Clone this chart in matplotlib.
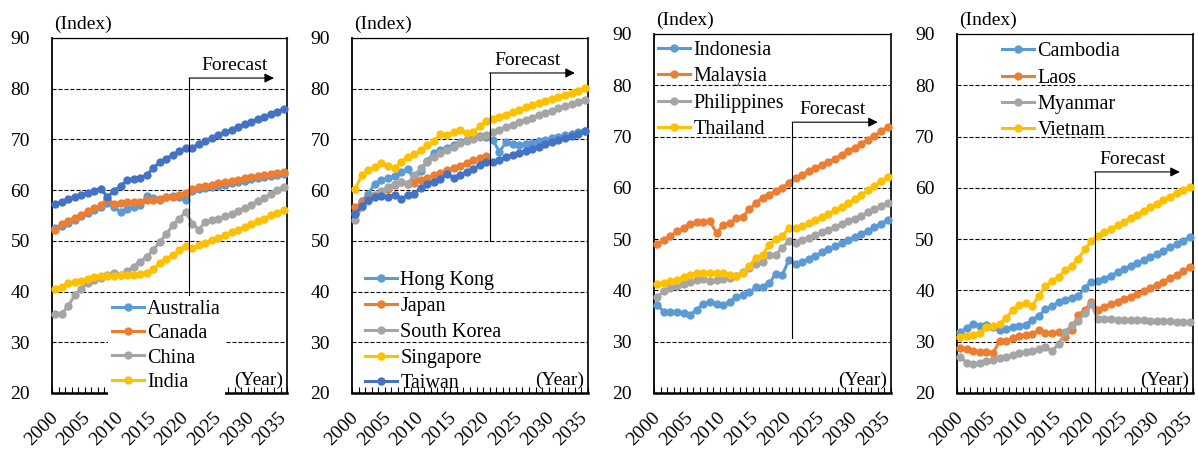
import numpy as np
import matplotlib
matplotlib.use('Agg')
import matplotlib.pyplot as plt

plt.rcParams['font.family'] = ['Liberation Serif', 'DejaVu Serif']
plt.rcParams['font.size'] = 14

# ========== DATA ==========
years = list(range(2000, 2036))

# panel 1
australia = [52.6, 53.0, 53.6, 54.2, 54.8, 55.5, 56.0, 56.6, 57.4, 56.6, 55.7, 56.3,
             56.7, 57.0, 58.8, 58.4, 58.0, 58.6, 58.8, 58.6, 58.0, 59.9, 60.2, 60.4,
             60.7, 60.9, 61.1, 61.4, 61.6, 61.8, 62.1, 62.3, 62.5, 62.7, 63.0, 63.2]
canada = [52.2, 53.3, 53.9, 54.5, 55.1, 55.8, 56.4, 57.0, 58.3, 57.3, 57.5, 57.7,
          57.7, 57.7, 58.0, 58.0, 58.3, 58.6, 58.6, 59.0, 59.5, 60.3, 60.6, 60.9,
          61.1, 61.4, 61.6, 61.8, 62.0, 62.3, 62.5, 62.7, 62.9, 63.1, 63.3, 63.5]
china = [35.6, 35.6, 37.2, 39.3, 40.6, 41.6, 42.2, 42.7, 43.2, 43.7, 43.3, 44.0,
         44.9, 45.9, 46.8, 48.2, 49.8, 51.3, 53.1, 54.4, 55.7, 53.4, 52.2, 53.8,
         54.1, 54.4, 54.8, 55.3, 55.9, 56.5, 57.1, 57.8, 58.5, 59.2, 60.0, 60.7]
india = [40.5, 40.9, 41.7, 41.9, 42.1, 42.5, 42.8, 43.0, 43.1, 43.0, 43.2, 43.3,
         43.3, 43.5, 43.7, 44.4, 45.6, 46.4, 47.2, 48.1, 48.9, 48.6, 49.1, 49.6,
         50.1, 50.6, 51.2, 51.7, 52.2, 52.8, 53.3, 53.9, 54.4, 55.0, 55.5, 56.1]
other = [57.2, 57.7, 58.2, 58.7, 59.1, 59.5, 59.9, 60.3, 58.6, 59.9, 60.8, 61.9,
         62.2, 62.4, 63.0, 64.3, 65.5, 66.2, 66.9, 67.7, 68.4, 68.4, 69.1, 69.7,
         70.3, 70.8, 71.4, 71.9, 72.5, 73.0, 73.5, 74.0, 74.5, 75.0, 75.5, 76.0]

# panel 2
hong_kong = [55.4, 57.8, 59.3, 61.3, 61.9, 62.3, 62.8, 63.5, 64.2, 62.0, 63.8, 65.8,
             67.3, 67.9, 68.4, 68.9, 69.4, 69.8, 70.3, 70.7, 70.5, 69.8, 67.6, 69.4,
             69.0, 68.9, 69.1, 69.3, 69.6, 69.9, 70.2, 70.5, 70.8, 71.1, 71.4, 71.7]
japan = [56.6, 57.6, 58.3, 59.0, 59.7, 60.3, 61.1, 61.6, 61.2, 61.4, 61.9, 62.4,
         62.9, 63.3, 63.9, 64.3, 64.8, 65.3, 65.9, 66.3, 66.7, None, None, None,
         None, None, None, None, None, None, None, None, None, None, None, None]
south_korea = [54.2, 56.6, 57.9, 58.9, 59.8, 60.6, 61.2, 61.6, 61.3, 62.9, 64.3, 65.6,
               66.6, 67.3, 68.0, 68.6, 69.2, 69.7, 70.1, 70.5, 70.8, 71.4, 71.9, 72.4,
               72.9, 73.4, 73.9, 74.3, 74.8, 75.2, 75.7, 76.1, 76.5, 76.9, 77.3, 77.7]
singapore = [60.3, 62.9, 63.9, 64.6, 65.4, 64.7, 64.3, 65.6, 66.5, 67.1, 67.9, 68.8,
             69.7, 71.0, 70.9, 71.4, 71.9, 71.2, 71.4, 72.6, 73.6, 74.0, 74.5, 74.9,
             75.4, 75.8, 76.3, 76.7, 77.2, 77.6, 78.0, 78.4, 78.8, 79.2, 79.6, 80.1]
taiwan = [55.3, 56.8, 58.0, 58.7, 58.9, 58.7, 59.1, 58.2, 59.0, 59.3, 60.5, 61.2,
          61.7, 62.2, 63.2, 62.4, 63.0, 63.6, 64.2, 64.9, 65.6, 65.6, 66.0, 66.5,
          66.9, 67.3, 67.8, 68.2, 68.6, 69.0, 69.5, 69.9, 70.3, 70.7, 71.1, 71.6]

# panel 3
indonesia = [37.2, 35.8, 35.7, 35.7, 35.5, 35.3, 36.2, 37.4, 37.8, 37.4, 37.2, 37.8,
             38.7, 39.1, 39.6, 40.6, 40.7, 41.4, 43.2, 43.0, 46.0, 45.1, 45.6, 46.2,
             46.8, 47.4, 48.0, 48.6, 49.2, 49.8, 50.4, 51.0, 51.6, 52.3, 53.0, 53.8]
malaysia = [49.0, 49.9, 50.6, 51.5, 52.2, 52.9, 53.3, 53.3, 53.5, 51.2, 52.7, 53.1,
            54.1, 54.4, 55.8, 57.0, 58.1, 58.7, 59.4, 60.0, 61.0, 62.0, 62.6, 63.2,
            63.8, 64.4, 65.0, 65.7, 66.4, 67.1, 67.8, 68.6, 69.4, 70.2, 71.0, 71.9]
philippines = [38.7, 39.9, 40.5, 40.9, 41.3, 41.6, 42.0, 42.2, 41.8, 42.1, 42.2, 42.4,
               42.8, 43.6, 44.4, 45.1, 45.5, 46.9, 47.0, 48.3, 49.7, 49.3, 49.8, 50.3,
               50.8, 51.3, 51.8, 52.4, 52.9, 53.5, 54.0, 54.6, 55.2, 55.8, 56.4, 57.0]
thailand = [41.2, 41.5, 41.8, 42.1, 42.6, 43.1, 43.4, 43.4, 43.3, 43.4, 43.4, 43.1,
            42.8, 43.3, 44.8, 46.4, 47.0, 48.8, 50.0, 50.6, 52.2, 52.2, 52.6, 53.1,
            53.7, 54.3, 54.9, 55.6, 56.3, 57.0, 57.8, 58.6, 59.5, 60.4, 61.3, 62.2]

# panel 4
cambodia = [31.8, 32.7, 33.4, 33.1, 33.3, 32.8, 32.2, 32.4, 32.8, 33.0, 33.3, 34.3,
            35.1, 36.3, 36.9, 37.7, 38.2, 38.6, 38.9, 40.5, 41.7, 41.9, 42.3, 42.9,
            43.5, 44.1, 44.7, 45.3, 45.9, 46.5, 47.1, 47.7, 48.4, 49.0, 49.7, 50.4]
laos = [28.8, 28.6, 28.2, 28.0, 28.0, 27.8, 30.1, 30.1, 30.8, 31.1, 31.3, 31.5,
        32.2, 31.7, 31.6, 31.9, 31.0, 32.3, 35.3, 36.1, 37.7, 36.2, 36.8, 37.3,
        37.8, 38.3, 38.8, 39.3, 39.9, 40.5, 41.1, 41.7, 42.4, 43.0, 43.7, 44.5]
myanmar = [27.0, 25.9, 25.7, 25.9, 26.2, 26.5, 26.9, 27.0, 27.4, 27.8, 28.0, 28.2,
           28.5, 28.9, 28.2, 29.5, 31.8, 33.3, 34.1, 35.5, 37.3, 34.4, 34.4, 34.4,
           34.3, 34.3, 34.2, 34.2, 34.2, 34.1, 34.1, 34.0, 34.0, 33.9, 33.9, 33.9]
vietnam = [31.0, 31.2, 31.3, 31.6, 32.8, 33.1, 33.5, 34.6, 36.2, 37.2, 37.5, 37.0,
           39.0, 40.8, 41.8, 42.7, 43.9, 44.7, 46.2, 48.0, 49.6, 50.6, 51.3, 52.0,
           52.7, 53.4, 54.1, 54.8, 55.5, 56.2, 56.9, 57.6, 58.3, 59.0, 59.6, 60.2]

# ================================

c_lblue = '#5B9BD5'
c_orange = '#ED7D31'
c_gray = '#A5A5A5'
c_yellow = '#FFC000'
c_dblue = '#4472C4'

x = np.arange(len(years))

panels = [
    dict(rect=[0.0434, 0.1267, 0.1962, 0.7889],
         series=[('Australia', australia, c_lblue), ('Canada', canada, c_orange),
                 ('China', china, c_gray), ('India', india, c_yellow),
                 ('_other', other, c_dblue)],
         leg_anchor=(0.238, 0.274), leg_frame=True, leg_space=0.26,
         fc_top=82.1, fc_low=39.4, fc_text_x=27.4),
    dict(rect=[0.2938, 0.1267, 0.1970, 0.7889],
         series=[('Hong Kong', hong_kong, c_lblue), ('Japan', japan, c_orange),
                 ('South Korea', south_korea, c_gray), ('Singapore', singapore, c_yellow),
                 ('Taiwan', taiwan, c_dblue)],
         leg_anchor=(0.038, 0.354), leg_frame=False, leg_space=0.33,
         fc_top=83.1, fc_low=50.0, fc_text_x=26.3),
    dict(rect=[0.5459, 0.1267, 0.1978, 0.7978],
         series=[('Indonesia', indonesia, c_lblue), ('Malaysia', malaysia, c_orange),
                 ('Philippines', philippines, c_gray), ('Thailand', thailand, c_yellow)],
         leg_anchor=(0.0, 0.992), leg_frame=False, leg_space=0.36,
         fc_top=72.8, fc_low=30.7, fc_text_x=26.6),
    dict(rect=[0.7988, 0.1267, 0.1970, 0.7978],
         series=[('Cambodia', cambodia, c_lblue), ('Laos', laos, c_orange),
                 ('Myanmar', myanmar, c_gray), ('Vietnam', vietnam, c_yellow)],
         leg_anchor=(0.174, 0.988), leg_frame=False, leg_space=0.36,
         fc_top=63.1, fc_low=20.0, fc_text_x=26.3),
]

fig = plt.figure(figsize=(11.98, 4.5), dpi=100)

for p in panels:
    ax = fig.add_axes(p['rect'])
    for label, vals, color in p['series']:
        y = np.array([np.nan if v is None else v for v in vals], dtype=float)
        ax.plot(x, y, color=color, lw=2.2, marker='o', markersize=6,
                markeredgewidth=0, label=label, clip_on=False, zorder=3)

    ax.set_xlim(-0.5, len(years) - 0.5)
    ax.set_ylim(20, 90)
    ax.set_yticks(range(20, 91, 10))
    ax.set_xticks(x[::5])
    ax.set_xticklabels([str(yr) for yr in years[::5]], rotation=45, ha='right',
                       va='center', rotation_mode='anchor')
    ax.set_xticks(np.arange(-0.5, len(years), 1), minor=True)
    ax.tick_params(axis='x', which='major', length=0, pad=16)
    ax.tick_params(axis='x', which='minor', direction='in', length=4, width=0.8)
    ax.tick_params(axis='y', length=0, pad=16)

    ax.set_axisbelow(True)
    ax.yaxis.grid(True, color='black', linestyle=(0, (3.6, 1.8)), linewidth=0.8)
    ax.spines['left'].set_linewidth(1.3)
    ax.spines['bottom'].set_linewidth(1.8)
    ax.spines['top'].set_linewidth(0.9)
    ax.spines['right'].set_linewidth(1.2)

    # forecast marker
    ax.plot([20.5, 20.5], [p['fc_low'], p['fc_top']], color='black', lw=0.8, zorder=4)
    ax.annotate('', xy=(33.5, p['fc_top']), xytext=(20.5, p['fc_top']),
                arrowprops=dict(arrowstyle='-|>', color='black', lw=0.8,
                                mutation_scale=14, shrinkA=0, shrinkB=0), zorder=4)
    ax.annotate('Forecast', xy=(p['fc_text_x'], p['fc_top']), xytext=(0, 3),
                textcoords='offset points', ha='center', va='bottom')

    ax.text(0.01, 1.015, '(Index)', transform=ax.transAxes, ha='left', va='bottom')
    ax.text(0.985, 0.01, '(Year)', transform=ax.transAxes, ha='right', va='bottom')

    leg = ax.legend(loc='upper left', bbox_to_anchor=p['leg_anchor'],
                    frameon=p['leg_frame'], borderpad=0.2, borderaxespad=0,
                    handlelength=1.6, handletextpad=0.15,
                    labelspacing=p['leg_space'], fancybox=False, fontsize=14.5)
    if p['leg_frame']:
        leg.get_frame().set_facecolor('white')
        leg.get_frame().set_edgecolor('none')
        leg.get_frame().set_alpha(1)

fig.savefig('out.png', dpi=100)
